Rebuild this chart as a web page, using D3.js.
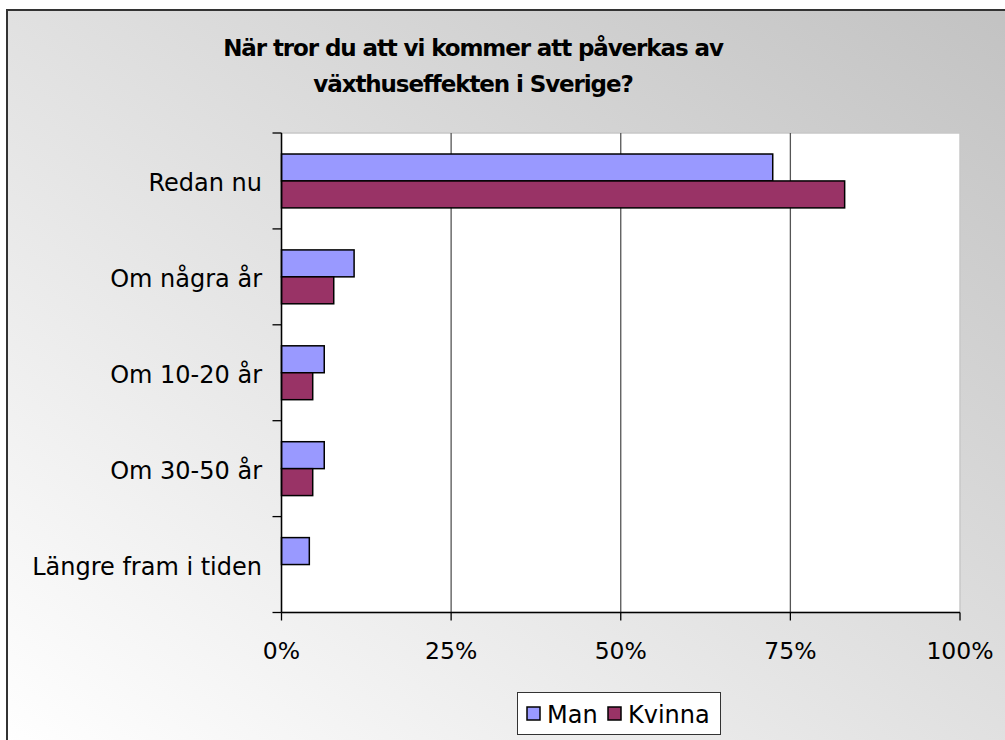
<!DOCTYPE html>
<html>
<head>
<meta charset="utf-8">
<script src="https://cdn.jsdelivr.net/npm/d3@7"></script>
<style>
  html, body { margin: 0; padding: 0; background: #fff; }
  svg { display: block; font-family: "DejaVu Sans", Verdana, sans-serif; }
</style>
</head>
<body>
<svg id="chart" width="1005" height="740"></svg>
<script>
// data
var categories = ['Redan nu', 'Om några år', 'Om 10-20 år', 'Om 30-50 år', 'Längre fram i tiden'];
var seriesNames = ['Man', 'Kvinna'];
var manValues = [72.4, 10.7, 6.3, 6.3, 4.1];
var kvinnaValues = [83.0, 7.7, 4.6, 4.6, 0];
var tickValues = [0, 25, 50, 75, 100];
var colors = ['#9999ff', '#993366'];

var svg = d3.select('#chart');

// background gradient
var defs = svg.append('defs');
var grad = defs.append('linearGradient').attr('id', 'bg')
    .attr('x1', 0).attr('y1', 1).attr('x2', 1).attr('y2', 0);
grad.append('stop').attr('offset', '0%').attr('stop-color', '#ffffff');
grad.append('stop').attr('offset', '100%').attr('stop-color', '#c2c2c2');

svg.append('rect').attr('x', 7).attr('y', 10).attr('width', 1010).attr('height', 740)
    .attr('fill', 'url(#bg)').attr('stroke', '#333').attr('stroke-width', 2);

// title
var title = svg.append('text').attr('text-anchor', 'middle')
    .attr('font-weight', 'bold').attr('font-size', 23).attr('letter-spacing', -1.1).attr('fill', '#000');
title.append('tspan').attr('x', 473).attr('y', 56).text('När tror du att vi kommer att påverkas av');
title.append('tspan').attr('x', 473).attr('y', 92).text('växthuseffekten i Sverige?');

var margin = {left: 281.5, right: 960, top: 133, bottom: 612.5};

var x = d3.scaleLinear().domain([0, 100]).range([margin.left, margin.right]);
var y = d3.scaleBand().domain(categories).range([margin.top, margin.bottom])
    .paddingInner(0).paddingOuter(0);
var inner = d3.scaleBand().domain(seriesNames).range([0, y.bandwidth()])
    .paddingInner(0).paddingOuter(0.78);

// plot area
svg.append('rect').attr('x', margin.left).attr('y', margin.top)
    .attr('width', margin.right - margin.left).attr('height', margin.bottom - margin.top)
    .attr('fill', '#fff').attr('stroke', '#c8c8c8').attr('stroke-width', 1.5);

// gridlines
svg.append('g').selectAll('line').data(tickValues.slice(1, 4)).enter().append('line')
    .attr('x1', function (d) { return x(d); }).attr('x2', function (d) { return x(d); })
    .attr('y1', margin.top).attr('y2', margin.bottom)
    .attr('stroke', '#555').attr('stroke-width', 1.3);

// bars
var rows = categories.map(function (c, i) {
    return {cat: c, vals: [manValues[i], kvinnaValues[i]]};
});
var groups = svg.append('g').selectAll('g').data(rows).enter().append('g')
    .attr('transform', function (d) { return 'translate(0,' + y(d.cat) + ')'; });
groups.selectAll('rect').data(function (d) {
    return d.vals.map(function (v, j) { return {name: seriesNames[j], v: v, j: j}; })
        .filter(function (e) { return e.v > 0; });
}).enter().append('rect')
    .attr('x', x(0))
    .attr('y', function (d) { return inner(d.name); })
    .attr('width', function (d) { return x(d.v) - x(0); })
    .attr('height', inner.bandwidth())
    .attr('fill', function (d) { return colors[d.j]; })
    .attr('stroke', '#000').attr('stroke-width', 1.5);

// y axis
var yAxis = svg.append('g');
yAxis.append('line').attr('x1', margin.left).attr('x2', margin.left)
    .attr('y1', margin.top).attr('y2', margin.bottom).attr('stroke', '#000').attr('stroke-width', 1.5);
var bounds = categories.map(function (c) { return y(c); }).concat([margin.bottom]);
yAxis.selectAll('line.tick').data(bounds).enter().append('line').attr('class', 'tick')
    .attr('x1', margin.left - 9).attr('x2', margin.left)
    .attr('y1', function (d) { return d; }).attr('y2', function (d) { return d; })
    .attr('stroke', '#000').attr('stroke-width', 1.3);
yAxis.selectAll('text').data(categories).enter().append('text')
    .attr('x', 262).attr('y', function (d) { return y(d) + y.bandwidth() / 2; })
    .attr('dy', '0.42em').attr('text-anchor', 'end').attr('font-size', 24).attr('fill', '#000')
    .text(function (d) { return d; });

// x axis
var xAxis = svg.append('g');
xAxis.append('line').attr('x1', margin.left).attr('x2', margin.right)
    .attr('y1', margin.bottom).attr('y2', margin.bottom).attr('stroke', '#000').attr('stroke-width', 1.5);
xAxis.selectAll('line.tick').data(tickValues).enter().append('line').attr('class', 'tick')
    .attr('x1', function (d) { return x(d); }).attr('x2', function (d) { return x(d); })
    .attr('y1', margin.bottom).attr('y2', margin.bottom + 8)
    .attr('stroke', '#000').attr('stroke-width', 1.3);
xAxis.selectAll('text').data(tickValues).enter().append('text')
    .attr('x', function (d) { return x(d); }).attr('y', 659)
    .attr('text-anchor', 'middle').attr('font-size', 23.5).attr('fill', '#000')
    .text(function (d) { return d + '%'; });

// legend
var legend = svg.append('g');
legend.append('rect').attr('x', 517.5).attr('y', 692.5).attr('width', 203).attr('height', 42)
    .attr('fill', '#fff').attr('stroke', '#333').attr('stroke-width', 1);
var legendX = [527, 608];
seriesNames.forEach(function (n, i) {
    legend.append('rect').attr('x', legendX[i]).attr('y', 707).attr('width', 13).attr('height', 13)
        .attr('fill', colors[i]).attr('stroke', '#000').attr('stroke-width', 1.5);
    legend.append('text').attr('x', legendX[i] + 20).attr('y', 723)
        .attr('font-size', 24).attr('fill', '#000').text(n);
});
</script>
</body>
</html>
